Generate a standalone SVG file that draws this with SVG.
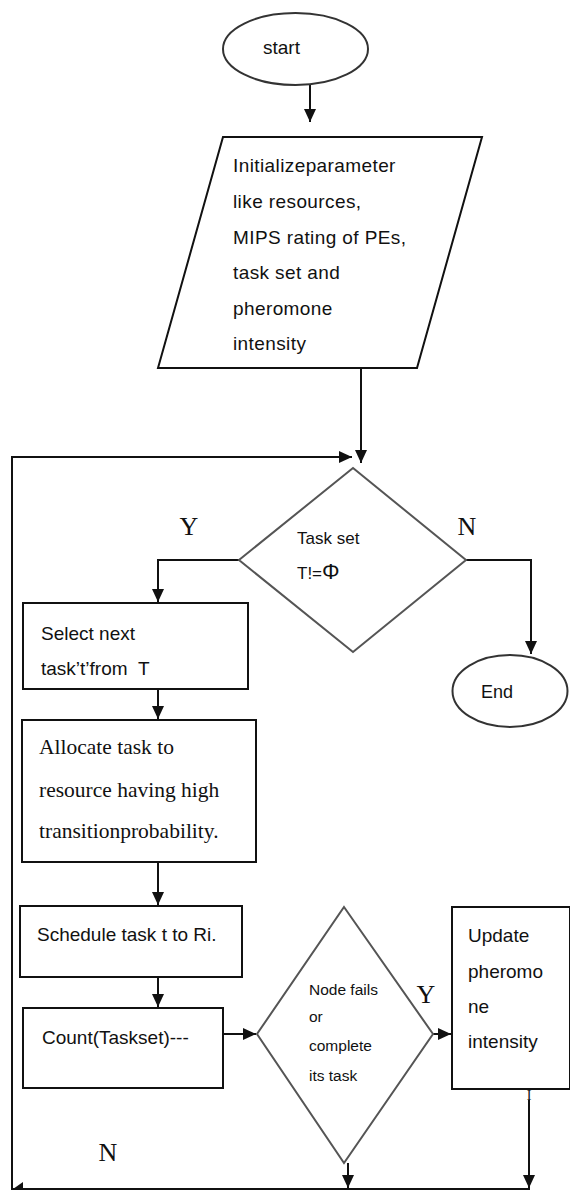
<svg xmlns="http://www.w3.org/2000/svg" width="570" height="1191" viewBox="0 0 570 1191">
<style>
.shape{fill:#fff;stroke:#111;stroke-width:2}
.dia{fill:#fff;stroke:#555;stroke-width:2}
.ell{fill:#fff;stroke:#333;stroke-width:2}
.conn{fill:none;stroke:#111;stroke-width:2}
.sans{font-family:"Liberation Sans",Arial,sans-serif;fill:#111}
.serif{font-family:"Liberation Serif","Times New Roman",serif;fill:#111}
</style>
<defs>
<marker id="arr" markerUnits="userSpaceOnUse" markerWidth="14" markerHeight="14" viewBox="0 0 14 14" refX="13" refY="7" orient="auto">
<path d="M0,1 L13,7 L0,13 Z" fill="#111"/>
</marker>
</defs>
<rect width="570" height="1191" fill="#fff"/>
<g id="connectors">
<path class="conn" d="M310,85 V122" marker-end="url(#arr)"/>
<path class="conn" d="M361,368 V463" marker-end="url(#arr)"/>
<path class="conn" d="M530,1189 H12 V457 H352" marker-end="url(#arr)"/>
<path d="M13,1189 L23,1182 L23,1189 Z" fill="#111"/>
<path class="conn" d="M239,560 H158 V602" marker-end="url(#arr)"/>
<path class="conn" d="M466,560 H531 V654" marker-end="url(#arr)"/>
<path class="conn" d="M158,689 V719" marker-end="url(#arr)"/>
<path class="conn" d="M158,862 V905" marker-end="url(#arr)"/>
<path class="conn" d="M158,977 V1007" marker-end="url(#arr)"/>
<path class="conn" d="M223,1034 H256" marker-end="url(#arr)"/>
<path class="conn" d="M433,1034 H451" marker-end="url(#arr)"/>
<path class="conn" d="M348,1163 V1188" marker-end="url(#arr)"/>
<path class="conn" d="M529,1100 V1188" marker-end="url(#arr)"/>
<text class="serif" x="189" y="535" font-size="26" text-anchor="middle">Y</text>
<text class="serif" x="467" y="535" font-size="26" text-anchor="middle">N</text>
<text class="serif" x="426" y="1003" font-size="26" text-anchor="middle">Y</text>
<text class="serif" x="108" y="1161" font-size="26" text-anchor="middle">N</text>
<text class="serif" x="529" y="1100" font-size="14" text-anchor="middle">I</text>
</g>
<g id="start">
<ellipse class="ell" cx="295.5" cy="49" rx="72.5" ry="36"/>
<text class="sans" x="263" y="54" font-size="19">start</text>
</g>
<g id="init">
<polygon class="shape" points="223,137 482,137 417,368 158,368"/>
<text class="sans" font-size="19" letter-spacing="0.4">
<tspan x="233" y="172">Initializeparameter</tspan>
<tspan x="233" y="208">like resources,</tspan>
<tspan x="233" y="244">MIPS rating of PEs,</tspan>
<tspan x="233" y="279">task set and</tspan>
<tspan x="233" y="315">pheromone</tspan>
<tspan x="233" y="350">intensity</tspan>
</text>
</g>
<g id="decision-taskset">
<polygon class="dia" points="353,468 466,560 353,652 239,560"/>
<text class="sans" font-size="17">
<tspan x="297" y="544">Task set</tspan>
<tspan x="297" y="579">T!=<tspan font-size="22">Φ</tspan></tspan>
</text>
</g>
<g id="end">
<ellipse class="ell" cx="510" cy="691" rx="57.5" ry="36"/>
<text class="sans" x="481" y="698" font-size="18">End</text>
</g>
<g id="select">
<rect class="shape" x="23" y="603" width="225" height="86"/>
<text class="sans" font-size="19">
<tspan x="41" y="640">Select next</tspan>
<tspan x="41" y="675">task’t’from&#160;&#160;T</tspan>
</text>
</g>
<g id="allocate">
<rect class="shape" x="22" y="720" width="234" height="142"/>
<text class="serif" font-size="21.5">
<tspan x="39" y="754">Allocate task to</tspan>
<tspan x="39" y="797">resource having high</tspan>
<tspan x="39" y="838">transitionprobability.</tspan>
</text>
</g>
<g id="schedule">
<rect class="shape" x="20" y="906" width="222" height="71"/>
<text class="sans" x="37" y="941" font-size="19">Schedule task t to Ri.</text>
</g>
<g id="count">
<rect class="shape" x="23" y="1008" width="200" height="80"/>
<text class="sans" x="42" y="1044" font-size="19">Count(Taskset)---</text>
</g>
<g id="decision-node">
<polygon class="dia" points="344,907 433,1034 344,1163 257,1034"/>
<text class="sans" font-size="15.5">
<tspan x="309" y="995">Node fails</tspan>
<tspan x="309" y="1022">or</tspan>
<tspan x="309" y="1051">complete</tspan>
<tspan x="309" y="1081">its task</tspan>
</text>
</g>
<g id="update">
<rect class="shape" x="452" y="907" width="118" height="182"/>
<text class="sans" font-size="19">
<tspan x="468" y="942">Update</tspan>
<tspan x="468" y="978">pheromo</tspan>
<tspan x="468" y="1013">ne</tspan>
<tspan x="468" y="1048">intensity</tspan>
</text>
</g>
</svg>
